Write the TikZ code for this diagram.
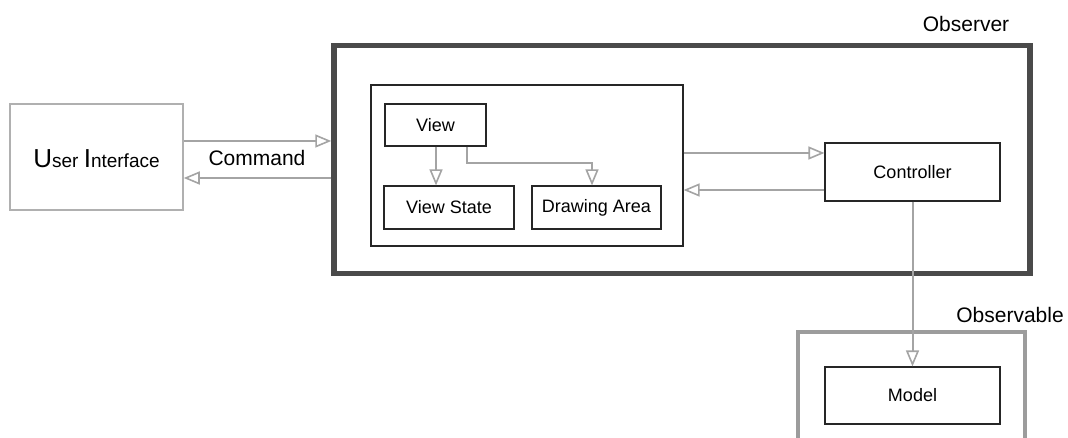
\documentclass[tikz,border=0pt]{standalone}
\usepackage{fontspec}
\setmainfont{Liberation Sans}
\usetikzlibrary{arrows.meta}
\definecolor{conncol}{HTML}{A4A4A4}
\definecolor{obsdark}{HTML}{4A4A4A}
\definecolor{obslight}{HTML}{9C9C9C}
\definecolor{uicol}{HTML}{B0B0B0}
\begin{document}
\begin{tikzpicture}[x=1pt,y=-1pt,
  box/.style={draw=black!85, line width=1.2pt, fill=white, inner sep=0pt, font=\fontsize{18}{18}\selectfont},
  conn/.style={draw=conncol, line width=2pt, -{Triangle[open,length=16pt,width=13pt,fill=white,line width=1.6pt]}},
  big/.style={font=\fontsize{21}{21}\selectfont, inner sep=0pt},
]
\useasboundingbox (0,0) rectangle (1068,438);
\clip (0,0) rectangle (1068,438);
% containers
\node[draw=obsdark, line width=5.5pt, minimum width=696pt, minimum height=228pt, inner sep=0pt] (obs) at (682,159.5) {};
\node[draw=obslight, line width=4pt, minimum width=227pt, minimum height=130pt, inner sep=0pt] (obl) at (911.5,397) {};
\node[box, minimum width=312pt, minimum height=161pt] (inner) at (527,165.5) {};
% boxes
\node[draw=uicol, line width=1.5pt, minimum width=173pt, minimum height=106pt, inner sep=0pt] (ui) at (96.5,157) {};
\node[inner sep=0pt, anchor=base] (uitext) at (96.5,168) {{\fontsize{26}{26}\selectfont U}{\fontsize{19}{19}\selectfont ser }{\fontsize{26}{26}\selectfont I}{\fontsize{19}{19}\selectfont nterface}};
\node[box, minimum width=101pt, minimum height=42pt] (view) at (435.5,125) {View};
\node[box, minimum width=130pt, minimum height=43pt] (vs) at (449,207.5) {View State};
\node[box, minimum width=129pt, minimum height=43pt] (da) at (596.5,207.5) {Drawing Area};
\node[box, minimum width=175pt, minimum height=58pt] (ctrl) at (912.5,172) {Controller};
\node[box, minimum width=175pt, minimum height=57pt] (model) at (912.5,395.5) {Model};
% labels
\node[big] (obsl) at (966,24) {Observer};
\node[big] (oblt) at (1010,315) {Observable};
\node[big] (cmd) at (257,158) {Command};
% helper coordinates
\coordinate (y1) at (0,141);
\coordinate (y2) at (0,178);
\coordinate (y3) at (0,153);
\coordinate (y4) at (0,190);
\coordinate (xa) at (436,0);
\coordinate (xb) at (467,0);
\coordinate (xc) at (592,0);
% connectors
\draw[conn] (ui.east |- y1) -- (obs.west |- y1);
\draw[conn] (obs.west |- y2) -- (ui.east |- y2);
\draw[conn] (inner.east |- y3) -- (ctrl.west |- y3);
\draw[conn] (ctrl.west |- y4) -- (inner.east |- y4);
\draw[conn] (view.south -| xa) -- (vs.north -| xa);
\draw[conn] (view.south -| xb) -- ++(0,16) -| (da.north -| xc);
\draw[conn] (ctrl.south) -- (model.north);
\end{tikzpicture}
\end{document}
